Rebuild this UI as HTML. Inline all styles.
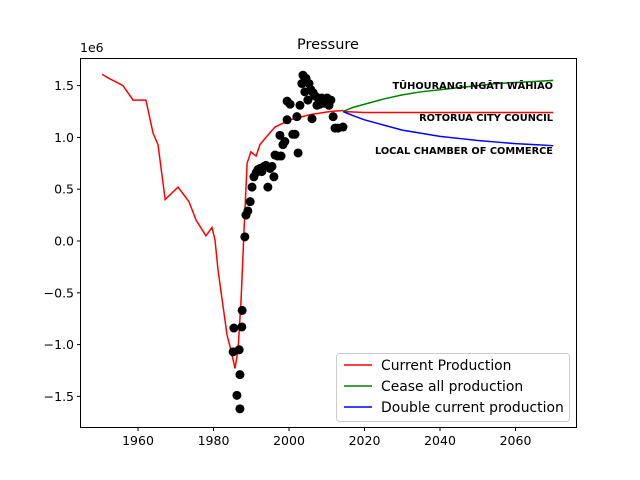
<!DOCTYPE html>
<html><head><meta charset="utf-8"><style>
body{margin:0;background:#fff}
svg{display:block;font-family:"DejaVu Sans","Liberation Sans",sans-serif}
</style></head><body>
<svg id="chart" width="640" height="480">
<rect x="0" y="0" width="640" height="480" fill="#fff"/>
<text x="328" y="49" text-anchor="middle" font-size="14.5">Pressure</text>
<text x="80" y="52" font-size="12.5">1e6</text>
<g id="plot"></g>
<rect x="80.5" y="58.5" width="496" height="369" fill="none" stroke="#000" stroke-width="1"/>
<g id="axes"></g>
<g font-size="9.8" font-weight="bold" text-anchor="end">
<text x="553" y="89">TŪHOURANGI NGĀTI WĀHIAO</text>
<text x="553" y="121">ROTORUA CITY COUNCIL</text>
<text x="553" y="154">LOCAL CHAMBER OF COMMERCE</text>
</g>
<g>
<rect x="336.5" y="353.5" width="233" height="68" rx="3" fill="#fff" fill-opacity="0.8" stroke="#ccc"/>
<line x1="344" y1="365" x2="372" y2="365" stroke="red" stroke-width="1.5"/>
<text x="381" y="370" font-size="13.9">Current Production</text>
<line x1="344" y1="386" x2="372" y2="386" stroke="green" stroke-width="1.5"/>
<text x="381" y="391" font-size="13.9">Cease all production</text>
<line x1="344" y1="407" x2="372" y2="407" stroke="blue" stroke-width="1.5"/>
<text x="381" y="412" font-size="13.9">Double current production</text>
</g>
</svg>
<script>
const histYears=[1950.5,1952.3,1956,1958.7,1962.1,1964,1965.3,1967.2,1970.6,1973.5,1975.4,1978,1979.6,1980.4,1981.2,1982.3,1983.6,1984.6,1985.7,1986.5,1987.3,1988.1,1988.9,1989.9,1991.3,1992.3,1993.9,1996.3,2000.3,2005.6,2010.9,2014.3];
const histValues=[1.61,1.57,1.50,1.36,1.36,1.04,0.93,0.40,0.52,0.38,0.20,0.05,0.13,0.01,-0.28,-0.57,-0.91,-1.05,-1.23,-1.05,-0.57,0.11,0.75,0.86,0.82,0.93,1.0,1.10,1.17,1.22,1.25,1.26];
const fcYears=[2014.3,2017,2020,2025,2030,2035,2040,2045,2050,2055,2060,2065,2070];
const currentValues=[1.25,1.245,1.24,1.24,1.24,1.24,1.24,1.24,1.24,1.24,1.24,1.24,1.24];
const ceaseValues=[1.25,1.29,1.32,1.37,1.41,1.44,1.46,1.48,1.50,1.52,1.53,1.54,1.55];
const doubleValues=[1.25,1.21,1.17,1.12,1.07,1.04,1.01,0.99,0.97,0.955,0.94,0.93,0.92];
const obsYears=[1985.4,1985.2,1986.2,1987.0,1987.0,1986.8,1987.5,1987.6,1988.3,1988.6,1989.1,1989.7,1990.2,1990.7,1991.3,1991.8,1992.3,1992.8,1993.4,1993.9,1994.4,1995,1995.5,1996,1996.3,1997,1997.6,1997.9,1998.4,1998.9,1999.5,1999.5,2000.3,2001,2001.6,2002.1,2002.4,2002.9,2003.4,2003.7,2004.2,2004.5,2005,2005.3,2005.8,2006.1,2006.4,2006.9,2007.4,2007.7,2008.2,2008.7,2009.3,2009.8,2010.1,2010.6,2011.1,2011.7,2012.2,2013,2014.3];
const obsValues=[-0.84,-1.07,-1.49,-1.62,-1.29,-1.05,-0.83,-0.67,0.04,0.25,0.29,0.38,0.52,0.62,0.66,0.69,0.70,0.67,0.72,0.73,0.52,0.70,0.72,0.62,0.83,0.82,1.02,0.82,0.93,0.96,1.17,1.35,1.32,1.03,1.03,1.20,0.85,1.31,1.52,1.60,1.44,1.57,1.36,1.52,1.46,1.18,1.43,1.40,1.31,1.38,1.32,1.38,1.33,1.35,1.38,1.31,1.36,1.20,1.09,1.09,1.10];
const xTicks=[1960,1980,2000,2020,2040,2060];
const yTicks=[1.5,1.0,0.5,0.0,-0.5,-1.0,-1.5];
const yTickLabels=["1.5","1.0","0.5","0.0","−0.5","−1.0","−1.5"];

const NS="http://www.w3.org/2000/svg";
const X=v=>138+(v-1960)*3.775;
const Y=v=>241-v*103.6;
const plot=document.getElementById('plot'),axes=document.getElementById('axes');
function mk(tag,attrs,parent){const e=document.createElementNS(NS,tag);for(const k in attrs)e.setAttribute(k,attrs[k]);parent.appendChild(e);return e;}
function line(xs,ys,color,name){
  const p=mk('polyline',{points:xs.map((x,i)=>X(x)+','+Y(ys[i])).join(' '),fill:'none',stroke:color,'stroke-width':1.5},plot);
  
  
}
line(histYears,histValues,'red','history-line');
line(fcYears,currentValues,'red','current-production-line');
line(fcYears,ceaseValues,'green','cease-production-line');
line(fcYears,doubleValues,'blue','double-production-line');
obsYears.forEach((yr,i)=>{
  const c=mk('circle',{cx:X(yr),cy:Y(obsValues[i]),r:4.5,fill:'#000'},plot);
  
  
});
xTicks.forEach(t=>{
  mk('line',{x1:X(t),y1:427.5,x2:X(t),y2:431,stroke:'#000'},axes);
  const tx=mk('text',{x:X(t),y:445,'text-anchor':'middle','font-size':12.5},axes);
  tx.textContent=t;
  
  
});
yTicks.forEach((t,i)=>{
  mk('line',{x1:77,y1:Y(t),x2:80.5,y2:Y(t),stroke:'#000'},axes);
  const tx=mk('text',{x:74,y:Y(t)+4.5,'text-anchor':'end','font-size':12.5},axes);
  tx.textContent=yTickLabels[i];
  
  
});
</script>
</body></html>
